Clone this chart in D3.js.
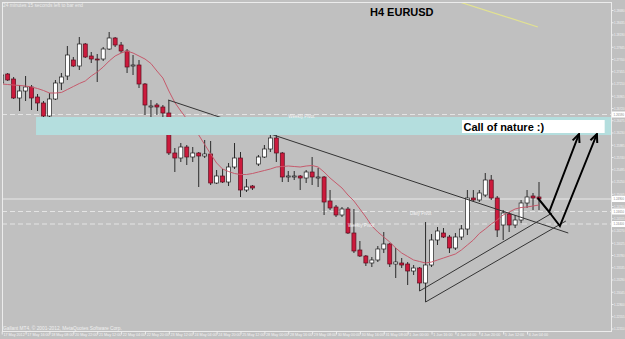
<!DOCTYPE html>
<html>
<head>
<meta charset="utf-8">
<script src="https://cdn.jsdelivr.net/npm/d3@7"></script>
<style>
body { margin: 0; background: #c0c0c0; }
svg { display: block; font-family: "Liberation Sans", Arial, sans-serif; }
</style>
</head>
<body>
<div id="chart"></div>
<script>
var svgWidth = 625
var svgHeight = 339
var plotLeft = 2, plotTop = 2, plotRight = 611, plotBottom = 331

// H4 EURUSD candles, one per 4 hours from 17 May 2012
var open = [1.2722, 1.2740, 1.2730, 1.2692, 1.2706, 1.2714, 1.2694, 1.2682, 1.2656, 1.2690,
    1.2722, 1.2736, 1.2768, 1.2756, 1.2800, 1.2776, 1.2770, 1.2770, 1.2790, 1.2812,
    1.2798, 1.2786, 1.2756, 1.2758, 1.2720, 1.2676, 1.2678, 1.2674, 1.2662, 1.2582,
    1.2572, 1.2594, 1.2574, 1.2582, 1.2576, 1.2580, 1.2522, 1.2536, 1.2524, 1.2554,
    1.2572, 1.2508, 1.2516, 1.2560, 1.2574, 1.2590, 1.2612, 1.2582, 1.2536, 1.2536,
    1.2536, 1.2532, 1.2544, 1.2534, 1.2534, 1.2486, 1.2474, 1.2458, 1.2470, 1.2422,
    1.2388, 1.2376, 1.2362, 1.2368, 1.2390, 1.2400, 1.2360, 1.2362, 1.2360, 1.2346,
    1.2352, 1.2322, 1.2358, 1.2408, 1.2422, 1.2414, 1.2392, 1.2414, 1.2430, 1.2492,
    1.2488, 1.2498, 1.2528, 1.2492, 1.2438, 1.2460, 1.2438, 1.2448, 1.2482, 1.2496,
    1.2494]
var high = [1.2748, 1.2742, 1.2734, 1.2718, 1.2736, 1.2718, 1.2700, 1.2686, 1.2702, 1.2728,
    1.2742, 1.2796, 1.2774, 1.2814, 1.2802, 1.2784, 1.2780, 1.2794, 1.2824, 1.2814,
    1.2804, 1.2790, 1.2778, 1.2768, 1.2722, 1.2688, 1.2682, 1.2678, 1.2688, 1.2592,
    1.2602, 1.2598, 1.2594, 1.2584, 1.2608, 1.2606, 1.2548, 1.2550, 1.2562, 1.2602,
    1.2584, 1.2530, 1.2518, 1.2578, 1.2598, 1.2620, 1.2618, 1.2584, 1.2546, 1.2546,
    1.2538, 1.2548, 1.2574, 1.2552, 1.2536, 1.2508, 1.2478, 1.2474, 1.2474, 1.2470,
    1.2406, 1.2378, 1.2374, 1.2396, 1.2424, 1.2402, 1.2392, 1.2372, 1.2364, 1.2358,
    1.2354, 1.2444, 1.2420, 1.2434, 1.2432, 1.2418, 1.2422, 1.2438, 1.2508, 1.2508,
    1.2508, 1.2542, 1.2538, 1.2496, 1.2468, 1.2464, 1.2458, 1.2488, 1.2508, 1.2502,
    1.2524]
var low = [1.2718, 1.2726, 1.2690, 1.2666, 1.2686, 1.2668, 1.2666, 1.2654, 1.2654, 1.2688,
    1.2708, 1.2728, 1.2754, 1.2748, 1.2772, 1.2762, 1.2724, 1.2766, 1.2788, 1.2794,
    1.2782, 1.2742, 1.2738, 1.2712, 1.2658, 1.2654, 1.2658, 1.2638, 1.2578, 1.2544,
    1.2564, 1.2558, 1.2564, 1.2514, 1.2572, 1.2518, 1.2520, 1.2522, 1.2516, 1.2550,
    1.2494, 1.2504, 1.2508, 1.2556, 1.2572, 1.2584, 1.2564, 1.2524, 1.2524, 1.2528,
    1.2508, 1.2522, 1.2518, 1.2514, 1.2458, 1.2468, 1.2454, 1.2454, 1.2420, 1.2382,
    1.2374, 1.2356, 1.2354, 1.2364, 1.2382, 1.2354, 1.2332, 1.2352, 1.2318, 1.2338,
    1.2306, 1.2284, 1.2354, 1.2398, 1.2412, 1.2382, 1.2388, 1.2408, 1.2418, 1.2484,
    1.2484, 1.2494, 1.2488, 1.2414, 1.2408, 1.2424, 1.2432, 1.2442, 1.2472, 1.2468,
    1.2468]
var close = [1.2738, 1.2728, 1.2692, 1.2706, 1.2714, 1.2692, 1.2682, 1.2656, 1.2690, 1.2722,
    1.2734, 1.2778, 1.2756, 1.2800, 1.2774, 1.2770, 1.2769, 1.2790, 1.2812, 1.2798,
    1.2786, 1.2754, 1.2758, 1.2720, 1.2678, 1.2676, 1.2674, 1.2662, 1.2582, 1.2572,
    1.2594, 1.2574, 1.2582, 1.2576, 1.2580, 1.2522, 1.2536, 1.2524, 1.2554, 1.2572,
    1.2508, 1.2514, 1.2512, 1.2574, 1.2590, 1.2612, 1.2582, 1.2534, 1.2536, 1.2536,
    1.2532, 1.2544, 1.2534, 1.2534, 1.2484, 1.2472, 1.2458, 1.2470, 1.2422, 1.2386,
    1.2376, 1.2362, 1.2368, 1.2390, 1.2400, 1.2360, 1.2364, 1.2358, 1.2346, 1.2352,
    1.2322, 1.2358, 1.2408, 1.2426, 1.2414, 1.2392, 1.2414, 1.2430, 1.2492, 1.2488,
    1.2502, 1.2528, 1.2492, 1.2428, 1.2462, 1.2438, 1.2448, 1.2482, 1.2494, 1.2492,
    1.2490]

// moving average, one value per candle
var ma = [1.2720, 1.2719, 1.2718, 1.2717, 1.2716, 1.2714, 1.2711, 1.2707, 1.2702, 1.2702,
    1.2703, 1.2709, 1.2715, 1.2721, 1.2726, 1.2736, 1.2744, 1.2754, 1.2766, 1.2776,
    1.2782, 1.2786, 1.2782, 1.2776, 1.2770, 1.2761, 1.2746, 1.2732, 1.2706, 1.2683,
    1.2666, 1.2650, 1.2634, 1.2618, 1.2599, 1.2580, 1.2562, 1.2550, 1.2545, 1.2541,
    1.2539, 1.2539, 1.2541, 1.2544, 1.2547, 1.2550, 1.2554, 1.2555, 1.2556, 1.2555,
    1.2554, 1.2556, 1.2557, 1.2554, 1.2544, 1.2532, 1.2522, 1.2512, 1.2498, 1.2486,
    1.2470, 1.2454, 1.2436, 1.2424, 1.2414, 1.2404, 1.2392, 1.2382, 1.2375, 1.2368,
    1.2365, 1.2362, 1.2364, 1.2368, 1.2372, 1.2376, 1.2380, 1.2388, 1.2398, 1.2408,
    1.2421, 1.2430, 1.2440, 1.2448, 1.2458, 1.2464, 1.2470, 1.2473, 1.2474, 1.2476,
    1.2478]

var timeLabels = ["17 May 2012", "17 May 16:00", "18 May 08:00", "20 May 22:00", "21 May 12:00",
    "22 May 04:00", "22 May 20:00", "23 May 12:00", "24 May 04:00", "24 May 20:00", "25 May 12:00",
    "28 May 00:00", "28 May 16:00", "29 May 08:00", "30 May 00:00", "30 May 16:00", "31 May 08:00",
    "1 Jun 00:00", "1 Jun 16:00", "4 Jun 04:00", "4 Jun 20:00", "5 Jun 12:00", "6 Jun 04:00"]

var priceTicks = [1.28680, 1.28435, 1.28190, 1.27945, 1.27700, 1.27455, 1.27210, 1.26965, 1.26720,
    1.26475, 1.26230, 1.25985, 1.25740, 1.25495, 1.25250, 1.25005, 1.24760, 1.24515, 1.24270,
    1.24025, 1.23780, 1.23535, 1.23290, 1.23045, 1.22800, 1.22555, 1.22310]

// drawn objects: [candle index, price]
var trendLine = [[27.9, 1.2688], [94.9, 1.2422]]
var channelUpper = [[70, 1.2306], [92.2, 1.2462]]
var channelLower = [[71, 1.2284], [94.5, 1.2446]]
var yellowLine = [[74.6, 1.2892], [89.8, 1.2834]]
var arrowA = [[89.8, 1.2492], [91.7, 1.2464], [96.7, 1.2620]]
var arrowB = [[91.7, 1.2464], [93.5, 1.2436], [99.7, 1.2620]]

var zoneStart = 5.75, zoneTop = 1.2654, zoneBottom = 1.2618
var noteStart = 77.1, noteEnd = 101.0, noteTop = 1.2648, noteBottom = 1.2622
var noteText = "Call of nature :)"

var levels = [1.2659, 1.2465, 1.2440]
var levelNames = [[48, 1.2659, "Weekly Pivot"], [68.4, 1.2465, "Daily Pivot"], [58, 1.2440, "Weekly Pivot"]]
var bid = close[close.length - 1]

var x = d3.scaleLinear().domain([0, 90]).range([1.7, 539])
var y = d3.scaleLinear().domain([1.2888, 1.2224]).range([0, 332])

var svg = d3.select("#chart").append("svg")
    .attr("width", svgWidth)
    .attr("height", svgHeight)

svg.append("rect").attr("width", svgWidth).attr("height", svgHeight).attr("fill", "#c0c0c0")

svg.append("defs").append("clipPath").attr("id", "plot").append("rect")
    .attr("x", plotLeft).attr("y", plotTop)
    .attr("width", plotRight - plotLeft).attr("height", plotBottom - plotTop)

var plot = svg.append("g").attr("clip-path", "url(#plot)")

//horizontal levels
plot.selectAll(".level").data(levels).enter().append("line")
    .attr("x1", plotLeft).attr("x2", plotRight)
    .attr("y1", function(d) { return y(d) }).attr("y2", function(d) { return y(d) })
    .attr("stroke", "#e4e4e4").attr("stroke-dasharray", "5,3")

plot.append("line")
    .attr("x1", plotLeft).attr("x2", plotRight)
    .attr("y1", y(bid)).attr("y2", y(bid))
    .attr("stroke", "#e8e8e8")

var line = d3.line().x(function(d) { return x(d[0]) }).y(function(d) { return y(d[1]) })

//candles
var idx = d3.range(open.length)
var candles = plot.selectAll(".candle").data(idx).enter().append("g")

candles.append("line")
    .attr("x1", function(i) { return x(i) }).attr("x2", function(i) { return x(i) })
    .attr("y1", function(i) { return y(high[i]) }).attr("y2", function(i) { return y(low[i]) })
    .attr("stroke", "#2a2a2a")

candles.append("rect")
    .attr("x", function(i) { return x(i) - 2 })
    .attr("width", 4)
    .attr("y", function(i) { return y(Math.max(open[i], close[i])) })
    .attr("height", function(i) { return Math.max(1, Math.abs(y(open[i]) - y(close[i]))) })
    .attr("fill", function(i) { return close[i] >= open[i] ? "#ffffff" : "#cc1a3c" })
    .attr("stroke", function(i) { return close[i] >= open[i] ? "#202020" : "#5a1020" })
    .attr("stroke-width", 0.7)

//moving average
plot.append("path")
    .attr("d", line(ma.map(function(d, i) { return [i, d] })))
    .attr("fill", "none").attr("stroke", "#c65a6c").attr("stroke-width", 1)

//trend lines
plot.append("path").attr("d", line(yellowLine)).attr("stroke", "#e2e290").attr("stroke-width", 1.2).attr("fill", "none")
;[trendLine, channelUpper, channelLower].forEach(function(t) {
    plot.append("path").attr("d", line(t)).attr("stroke", "#333").attr("stroke-width", 1).attr("fill", "none")
})

//supply zone
plot.append("rect")
    .attr("x", x(zoneStart)).attr("width", plotRight - x(zoneStart))
    .attr("y", y(zoneTop)).attr("height", y(zoneBottom) - y(zoneTop))
    .attr("fill", "#b4dede")

//arrows
function arrowHead(pts) {
    var a = pts[pts.length - 2], b = pts[pts.length - 1]
    var bx = x(b[0]), by = y(b[1])
    var ang = Math.atan2(by - y(a[1]), bx - x(a[0]))
    var len = 9, spread = 0.42
    return [[bx - len * Math.cos(ang - spread), by - len * Math.sin(ang - spread)], [bx, by],
        [bx - len * Math.cos(ang + spread), by - len * Math.sin(ang + spread)]]
}
;[arrowA, arrowB].forEach(function(a) {
    plot.append("path").attr("d", line(a)).attr("stroke", "#000").attr("stroke-width", 2).attr("fill", "none")
    plot.append("path").attr("d", d3.line()(arrowHead(a))).attr("stroke", "#000").attr("stroke-width", 2).attr("fill", "none")
})

//note
plot.append("rect")
    .attr("x", x(noteStart)).attr("width", x(noteEnd) - x(noteStart))
    .attr("y", y(noteTop)).attr("height", y(noteBottom) - y(noteTop))
    .attr("fill", "#ffffff")
plot.append("text")
    .attr("x", x(noteStart) + 1.5).attr("y", y(noteBottom) - 2.5)
    .attr("font-size", 11).attr("font-weight", "bold").attr("fill", "#000")
    .text(noteText)

plot.selectAll(".lvlname").data(levelNames).enter().append("text")
    .attr("x", function(d) { return x(d[0]) }).attr("y", function(d) { return y(d[1]) + 3 })
    .attr("font-size", 4.5).attr("fill", "#f4f4f4")
    .text(function(d) { return d[2] })

//frame
svg.append("rect")
    .attr("x", plotLeft + 0.5).attr("y", plotTop + 0.5)
    .attr("width", plotRight - plotLeft).attr("height", plotBottom - plotTop)
    .attr("fill", "none").attr("stroke", "#ececec")

//price axis
var yAxis = svg.append("g").attr("transform", "translate(" + (plotRight + 0.5) + ",0)")
    .call(d3.axisRight(y).tickValues(priceTicks).tickSize(2).tickPadding(0.5).tickFormat(d3.format(".5f")))
yAxis.select(".domain").remove()
yAxis.selectAll("line").attr("stroke", "#ececec")
yAxis.selectAll("text").attr("fill", "#f4f4f4").attr("font-size", 3.9).attr("font-family", null)
    .attr("textLength", 10.5).attr("lengthAdjust", "spacingAndGlyphs")

var boxes = svg.selectAll(".pbox").data(levels.concat([bid])).enter().append("g")
    .attr("transform", function(d) { return "translate(" + (plotRight + 1) + "," + y(d) + ")" })
boxes.append("rect").attr("x", 0).attr("y", -3).attr("width", 14).attr("height", 6).attr("fill", "#ffffff")
boxes.append("text").attr("x", 1.5).attr("y", 1.4).attr("font-size", 3.9).attr("fill", "#888")
    .attr("textLength", 10.5).attr("lengthAdjust", "spacingAndGlyphs")
    .text(function(d) { return d3.format(".5f")(d) })

//time axis
var xAxis = svg.append("g").attr("transform", "translate(0," + (plotBottom + 0.5) + ")")
    .call(d3.axisBottom(x).tickValues(d3.range(0, 89, 4)).tickSize(3).tickFormat(function(d, i) { return timeLabels[i] }))
xAxis.select(".domain").remove()
xAxis.selectAll("line").attr("stroke", "#ececec")
xAxis.selectAll("text").attr("fill", "#f4f4f4").attr("font-size", 3.7).attr("font-family", null)
    .attr("text-anchor", "start").attr("x", 1.2).attr("y", 2)

//texts
svg.append("text").attr("x", 370).attr("y", 15.5)
    .attr("font-size", 11).attr("font-weight", "bold").attr("fill", "#000")
    .text("H4 EURUSD")
svg.append("text").attr("x", 3).attr("y", 6.5).attr("font-size", 4.8).attr("fill", "#ececec")
    .text("24 minutes 15 seconds left to bar end")
svg.append("text").attr("x", 3).attr("y", 329.5).attr("font-size", 4.8).attr("fill", "#f0f0f0")
    .text("Gallant MT4, \u00a9 2001-2012, MetaQuotes Software Corp.")
</script>
</body>
</html>
